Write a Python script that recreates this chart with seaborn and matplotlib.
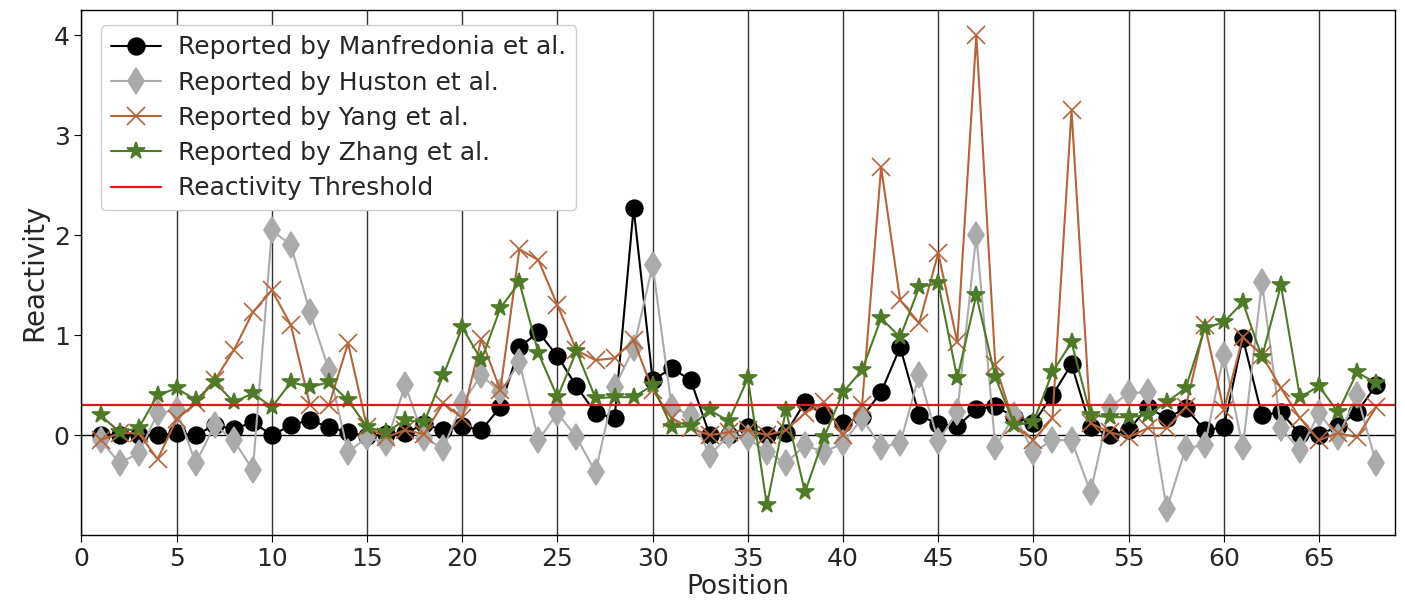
import numpy as np
import pandas as pd
import matplotlib
matplotlib.use("Agg")
import matplotlib.pyplot as plt
import seaborn as sns

# Data
positions = list(range(1, 69))

manfredonia = [0.0, 0.0, 0.0, 0.0, 0.02, 0.0, 0.1, 0.06, 0.13, 0.0,
               0.1, 0.15, 0.08, 0.03, -0.01, 0.01, 0.02, 0.11, 0.05, 0.09,
               0.05, 0.28, 0.88, 1.03, 0.79, 0.49, 0.22, 0.17, 2.27, 0.55,
               0.67, 0.55, 0.0, 0.0, 0.08, 0.0, 0.02, 0.33, 0.2, 0.12,
               0.18, 0.43, 0.88, 0.2, 0.11, 0.09, 0.26, 0.29, 0.18, 0.12,
               0.4, 0.71, 0.08, 0.0, 0.05, 0.28, 0.17, 0.27, 0.05, 0.08,
               0.97, 0.2, 0.23, 0.01, 0.0, 0.09, 0.23, 0.5]

huston = [-0.05, -0.28, -0.18, 0.22, 0.25, -0.28, 0.1, -0.05, -0.35, 2.05,
          1.9, 1.23, 0.65, -0.17, -0.02, -0.08, 0.5, -0.03, -0.13, 0.32,
          0.6, 0.43, 0.73, -0.05, 0.22, -0.02, -0.37, 0.48, 0.87, 1.7,
          0.28, 0.2, -0.2, 0.0, -0.03, -0.17, -0.28, -0.1, -0.17, -0.08,
          0.17, -0.12, -0.08, 0.6, -0.06, 0.23, 2.0, -0.12, 0.2, -0.17,
          -0.05, -0.05, -0.57, 0.28, 0.42, 0.43, -0.74, -0.13, -0.1, 0.8,
          -0.12, 1.53, 0.07, -0.15, 0.22, -0.02, 0.4, -0.28]

yang = [-0.05, 0.02, 0.02, -0.24, 0.16, 0.32, 0.55, 0.85, 1.23, 1.45,
        1.1, 0.3, 0.3, 0.92, 0.08, -0.02, 0.05, 0.01, 0.32, 0.17,
        0.96, 0.45, 1.86, 1.75, 1.3, 0.85, 0.75, 0.77, 0.95, 0.45,
        0.17, 0.07, 0.0, 0.03, 0.05, 0.0, 0.05, 0.22, 0.33, 0.0,
        0.3, 2.68, 1.35, 1.12, 1.82, 0.93, 4.0, 0.7, 0.1, -0.05,
        0.17, 3.25, 0.12, 0.03, -0.02, 0.07, 0.07, 0.28, 1.1, 0.25,
        0.98, 0.8, 0.47, 0.17, -0.05, 0.02, -0.02, 0.28]

zhang = [0.2, 0.03, 0.07, 0.4, 0.47, 0.35, 0.53, 0.33, 0.42, 0.28,
         0.53, 0.48, 0.53, 0.35, 0.08, 0.03, 0.15, 0.13, 0.6, 1.08,
         0.75, 1.27, 1.53, 0.82, 0.38, 0.84, 0.37, 0.38, 0.38, 0.5,
         0.08, 0.09, 0.25, 0.14, 0.57, -0.7, 0.25, -0.57, -0.02, 0.43,
         0.65, 1.17, 0.98, 1.48, 1.52, 0.57, 1.4, 0.58, 0.1, 0.13,
         0.63, 0.93, 0.2, 0.18, 0.18, 0.2, 0.33, 0.47, 1.07, 1.13,
         1.33, 0.78, 1.5, 0.38, 0.49, 0.23, 0.63, 0.52]

threshold = 0.3

sns.set_style("white")
plt.rcParams['font.family'] = ['DejaVu Sans']

fig, ax = plt.subplots(figsize=(14.05, 6.04), dpi=100)

series = [
    (manfredonia, 'black', 'o', 12, 'Reported by Manfredonia et al.'),
    (huston, '#ababab', 'd', 13, 'Reported by Huston et al.'),
    (yang, '#b5643a', 'x', 13, 'Reported by Yang et al.'),
    (zhang, '#4f7a28', '*', 13, 'Reported by Zhang et al.'),
]
for vals, col, mk, ms, lab in series:
    sns.lineplot(x=positions, y=vals, ax=ax, color=col, marker=mk,
                 markersize=ms, linewidth=1.5, linestyle='-',
                 markeredgecolor=col, markerfacecolor=col,
                 markeredgewidth=1.2, dashes=False, label=lab)

ax.axhline(0, color='black', linewidth=1, zorder=1)
ax.axhline(threshold, color='#e0161b', linewidth=1.6, label='Reactivity Threshold')

ax.set_xlim(0, 69)
ax.set_ylim(-1, 4.25)
ax.set_xticks(range(0, 70, 5))
ax.set_yticks([0, 1, 2, 3, 4])
ax.grid(axis='x', color='#333333', linewidth=1)
ax.set_axisbelow(True)

for s in ax.spines.values():
    s.set_color('black')
    s.set_linewidth(1)

ax.tick_params(axis='both', labelsize=18, length=5, color='black', left=True, bottom=True)
ax.set_xlabel('Position', fontsize=19, labelpad=2)
ax.set_ylabel('Reactivity', fontsize=20, labelpad=4)

ax.legend(loc='upper left', fontsize=18, frameon=True, framealpha=1,
          handlelength=2.0, handletextpad=0.7, borderpad=0.4,
          labelspacing=0.45, bbox_to_anchor=(0.005, 0.995))

plt.subplots_adjust(left=0.058, right=0.993, top=0.983, bottom=0.114)
plt.savefig('out.png', dpi=100)
plt.close()
